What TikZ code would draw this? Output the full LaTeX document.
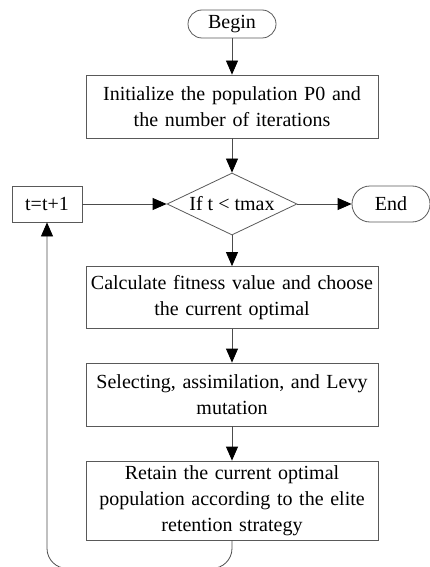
\documentclass[tikz,border=0pt]{standalone}
\usepackage{fontspec}
\setmainfont{Liberation Serif}
\usetikzlibrary{arrows.meta,shapes.geometric}
\begin{document}
\begin{tikzpicture}[x=1pt,y=-1pt,
  every node/.style={font=\fontsize{20}{26}\selectfont, text=black},
  procbox/.style={draw=black!65, line width=0.8pt, minimum width=292pt, text width=284pt, align=center, inner sep=0pt},
  termbox/.style={draw=black!65, line width=0.8pt, rounded corners=14pt, minimum height=28pt, inner sep=0pt},
  decbox/.style={draw=black!65, line width=0.8pt, shape=diamond, minimum width=130pt, minimum height=62pt, inner sep=0pt},
  flow/.style={draw=black!70, line width=0.8pt, -{Triangle[length=14pt,width=12pt,color=black,fill=black]}}
]
\useasboundingbox (0,0) rectangle (430,567);

% terminals
\node[termbox, minimum width=88pt] (begin) at (232,24) {Begin};
\node[termbox, minimum width=78pt, minimum height=36pt, rounded corners=18pt] (end) at (391,204) {End};

% process steps
\node[procbox, minimum height=63pt] (init) at (232,106.5) {Initialize the population P0 and\\the number of iterations};
\node[decbox] (dec) at (232,204) {};
\node (dectext) at (dec.center) {If t < tmax};
\node[draw=black!65, line width=0.8pt, minimum width=70pt, minimum height=36pt, inner sep=0pt] (tbox) at (47,204) {t=t+1};
\node[procbox, minimum height=62pt] (calc) at (232,297.5) {Calculate fitness value and choose\\the current optimal};
\node[procbox, minimum height=63pt] (sel) at (232,394.5) {Selecting, assimilation, and Levy\\mutation};
\node[procbox, minimum height=79pt] (ret) at (232,500.5) {Retain the current optimal\\population according to the elite\\retention strategy};

% connectors
\draw[flow] (begin) -- (init);
\draw[flow] (init) -- (dec);
\draw[flow] (dec) -- (calc);
\draw[flow] (calc) -- (sel);
\draw[flow] (sel) -- (ret);
\draw[flow] (dec) -- (end);
\draw[flow] (tbox) -- (dec);
\draw[flow, rounded corners=20pt] (ret.south) -- ++(0,28) -| (tbox.south);
\end{tikzpicture}
\end{document}
